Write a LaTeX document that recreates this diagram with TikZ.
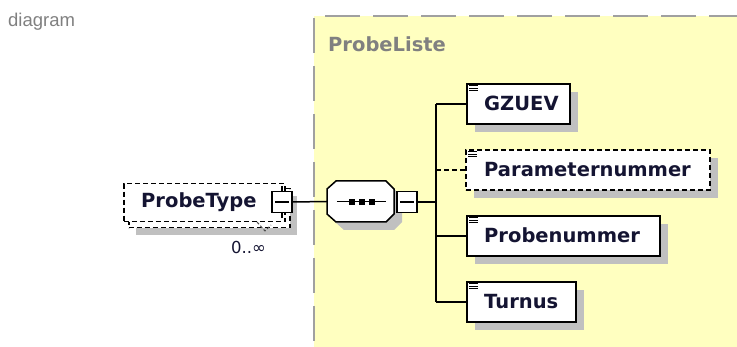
\documentclass[tikz,border=0pt]{standalone}
\usepackage{fontspec}
\setmainfont{DejaVu Sans}
\newfontfamily\arialfont{Liberation Sans}
\usetikzlibrary{shadows}
\definecolor{ylw}{RGB}{255,255,192}
\definecolor{shd}{RGB}{192,192,192}
\definecolor{brd}{RGB}{160,160,160}
\definecolor{txt}{RGB}{20,20,50}
\definecolor{lbl}{RGB}{128,128,128}
\newcommand\eqicon[1]{\foreach \q in {3pt,5.5pt,8pt} \draw[line width=1pt] ([xshift=3pt,yshift=-\q]#1.north west) -- ++(9,0);}
\newcommand\octpath{(336,181) -- (386,181) -- (394,189) -- (394,214) -- (386,222) -- (336,222) -- (327,214) -- (327,189) -- cycle}
\begin{document}
\begin{tikzpicture}[x=1pt,y=-1pt,
  shadowed/.style={drop shadow={shadow xshift=8pt,shadow yshift=-8pt,fill=shd,opacity=1}},
  elem/.style={draw=black,line width=1.6pt,fill=white,rectangle,inner sep=0pt,anchor=north west,minimum height=40pt,shadowed},
  optelem/.style={elem,dash pattern=on 5pt off 3pt},
  ename/.style={font=\fontsize{19.5}{20}\selectfont\bfseries,text=txt,inner sep=0pt,anchor=base west},
  conn/.style={draw=black,line width=1.5pt},
  expbox/.style={draw=black,line width=1.5pt,fill=white,rectangle,inner sep=0pt,minimum width=20pt,minimum height=21pt},
  ylborder/.style={draw=brd,line width=2pt,dash pattern=on 35pt off 13pt}]
\useasboundingbox (0,0) rectangle (737,347);
% caption
\node[anchor=base west,inner sep=0pt,font=\arialfont\fontsize{18.5}{19}\selectfont,text=lbl] (cap) at (8,27) {diagram};
% type region
\fill[ylw] (314,16) rectangle (737,347);
\coordinate (tl) at (325,16); \coordinate (tr) at (737,16);
\coordinate (lt) at (314,18); \coordinate (lb) at (314,347);
\draw[ylborder] (tl) -- (tr);
\draw[ylborder] (lt) -- (lb);
\node[anchor=base west,inner sep=0pt,font=\fontsize{19.5}{20}\selectfont\bfseries,text=lbl] (tname) at (328,52) {ProbeListe};
% ProbeType (0..unbounded, stacked)
\node[draw=black,line width=1.5pt,dash pattern=on 5pt off 3pt,fill=white,rectangle,inner sep=0pt,anchor=north west,minimum width=161pt,minimum height=39pt,drop shadow={shadow xshift=7pt,shadow yshift=-7pt,fill=shd,opacity=1}] (ptb) at (128,188) {};
\node[draw=black,line width=1.5pt,dash pattern=on 5pt off 3pt,fill=white,rectangle,inner sep=0pt,anchor=north west,minimum width=161pt,minimum height=38pt] (ptf) at (123,183) {};
\coordinate (v1) at (257,222); \coordinate (v2) at (265,231); \coordinate (v3) at (271,225);
\draw[black!70,line width=1pt,dash pattern=on 3pt off 2pt] (v1) -- (v2) -- (v3);
\node[ename] (ptt) at (141,208) {ProbeType};
\node[expbox] (ptexp) at (282,202) {};
\draw[line width=1.5pt] ([xshift=4pt]ptexp.west) -- ([xshift=-4pt]ptexp.east);
\draw[line width=1.5pt] (ptexp.north) -- ++(0,-5);
\draw[line width=1.5pt] (ptexp.south) -- ++(0,5);
\node[anchor=base west,inner sep=0pt,font=\fontsize{16.5}{17}\selectfont,text=txt] (mult) at (231,254) {0..∞};
% sequence compositor
\fill[shd,shift={(8,8)}] \octpath;
\draw[line width=1.5pt,fill=white] \octpath;
\node[rectangle,inner sep=0pt,minimum width=67pt,minimum height=41pt] (seq) at (360.5,201.5) {};
\draw[line width=1.3pt] ([xshift=10pt]seq.west) -- ([xshift=-8pt]seq.east);
\foreach \cx in {352,362,372} \fill (\cx-3,199) rectangle (\cx+3,205);
\node[expbox] (seqexp) at (407,202) {};
\draw[line width=1.5pt] ([xshift=4pt]seqexp.west) -- ([xshift=-4pt]seqexp.east);
\draw[conn] (ptexp.east) -- (seq.west);
% children
\node[elem,minimum width=103pt] (gz) at (466,83) {};
\node[optelem,minimum width=244pt] (pn) at (465,149) {};
\node[elem,minimum width=193pt] (pr) at (466,215) {};
\node[elem,minimum width=109pt] (tu) at (466,281) {};
\eqicon{gz}\eqicon{pn}\eqicon{pr}\eqicon{tu}
\node[ename] (gzt) at ([xshift=18pt,yshift=-7pt]gz.west) {GZUEV};
\node[ename] (pnt) at ([xshift=19pt,yshift=-7pt]pn.west) {Parameternummer};
\node[ename] (prt) at ([xshift=18pt,yshift=-7pt]pr.west) {Probenummer};
\node[ename] (tut) at ([xshift=18pt,yshift=-7pt]tu.west) {Turnus};
% connectors
\coordinate (busM) at (436,202);
\draw[conn] (seqexp.east) -- (busM);
\draw[conn] (gz.west -| busM) -- (tu.west -| busM);
\draw[conn] (gz.west -| busM) -- (gz.west);
\draw[conn,dash pattern=on 5pt off 3pt] (pn.west -| busM) -- (pn.west);
\draw[conn] (pr.west -| busM) -- (pr.west);
\draw[conn] (tu.west -| busM) -- (tu.west);
\end{tikzpicture}
\end{document}
